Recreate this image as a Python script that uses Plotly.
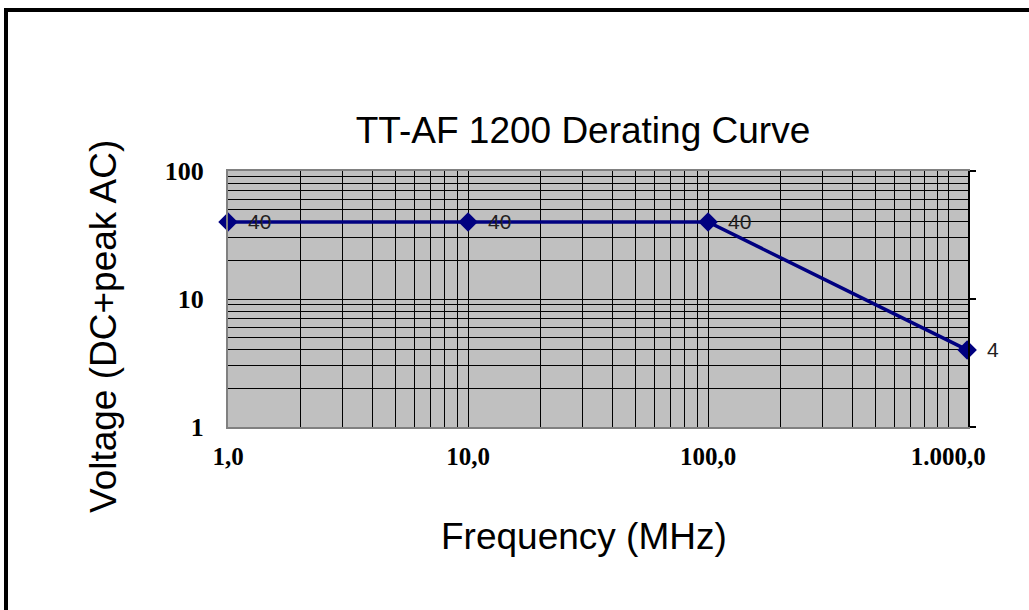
import math
import plotly.graph_objects as go

# ---- data ----
freq_mhz = [1, 10, 100, 1200]
voltage = [40, 40, 40, 4]
point_labels = ["40", "40", "40", "4"]

x_tick_vals = [1, 10, 100, 1000]
x_tick_text = ["1,0", "10,0", "100,0", "1.000,0"]
y_tick_vals = [1, 10, 100]
y_tick_text = ["1", "10", "100"]

title_text = "TT-AF 1200 Derating Curve"
x_title = "Frequency (MHz)"
y_title = "Voltage (DC+peak AC)"

# minor gridline positions (digits 2..9 of each decade)
x_minor = [d * 10 ** e for e in range(0, 3) for d in range(2, 10)]
y_minor = [d * 10 ** e for e in range(0, 2) for d in range(2, 10)]

# ---- layout geometry (pixels) ----
W, H = 1029, 610
PL, PR, PT, PB = 228, 968, 171, 427


def px(xp):
    return (xp - PL) / (PR - PL)


def py(yp):
    return (PB - yp) / (PB - PT)


NAVY = "#000080"
SANS = "Liberation Sans, Arial, sans-serif"
SERIF = "Liberation Serif, Times New Roman, serif"

fig = go.Figure()
fig.add_trace(go.Scatter(
    x=freq_mhz, y=voltage, mode="lines+markers",
    line=dict(color=NAVY, width=3.5),
    marker=dict(symbol="diamond", size=15, color=NAVY),
    hoverinfo="x+y", showlegend=False, cliponaxis=False,
))
# invisible trace to materialise right-hand axis
fig.add_trace(go.Scatter(
    x=freq_mhz, y=voltage, yaxis="y2", mode="markers",
    marker=dict(opacity=0), hoverinfo="skip", showlegend=False,
))

for f, v, t in zip(freq_mhz, voltage, point_labels):
    fig.add_annotation(
        x=math.log10(f), y=math.log10(v), xref="x", yref="y", text=t,
        showarrow=False, xanchor="left", yanchor="middle", xshift=18, yshift=0,
        font=dict(family=SANS, size=21, color="#222222"),
    )

fig.add_annotation(
    x=px(584), y=py(536), xref="paper", yref="paper", text=x_title,
    showarrow=False, xanchor="center", yanchor="middle",
    font=dict(family=SANS, size=37, color="black"),
)
fig.add_annotation(
    x=px(103), y=py(327), xref="paper", yref="paper", text=y_title,
    showarrow=False, xanchor="center", yanchor="middle", textangle=-90,
    font=dict(family=SANS, size=37, color="black"),
)

# outer black frame
fig.add_shape(
    type="rect", xref="paper", yref="paper",
    x0=px(6), x1=px(W + 20), y0=py(H + 20), y1=py(10),
    line=dict(color="black", width=4), fillcolor="rgba(0,0,0,0)", layer="above",
)

fig.update_layout(
    width=W, height=H, autosize=False,
    margin=dict(l=PL, r=W - PR, t=PT, b=H - PB, pad=0),
    paper_bgcolor="white", plot_bgcolor="#C0C0C0",
    title=dict(
        text=title_text, xref="container", yref="container",
        x=583 / W, y=1 - 130 / H, xanchor="center", yanchor="middle",
        font=dict(family=SANS, size=37, color="black"),
    ),
    xaxis=dict(
        type="log", range=[0, math.log10(1210)],
        tickmode="array", tickvals=x_tick_vals, ticktext=x_tick_text,
        tickfont=dict(family=SERIF, size=25, color="black", weight="bold"),
        showgrid=True, gridcolor="black", gridwidth=1.3,
        showline=True, linecolor="#808080", linewidth=2, mirror=True,
        ticks="", ticklabelstandoff=6,
        minor=dict(tickmode="array", tickvals=x_minor, showgrid=True,
                   gridcolor="black", gridwidth=1.3, ticks=""),
    ),
    yaxis=dict(
        type="log", range=[0, 2],
        tickmode="array", tickvals=y_tick_vals, ticktext=y_tick_text,
        tickfont=dict(family=SERIF, size=26, color="black", weight="bold"),
        showgrid=True, gridcolor="black", gridwidth=1.3,
        showline=True, linecolor="#808080", linewidth=2, mirror=False,
        ticks="", ticklabelstandoff=17,
        minor=dict(tickmode="array", tickvals=y_minor, showgrid=True,
                   gridcolor="black", gridwidth=1.3, ticks=""),
    ),
    yaxis2=dict(
        type="log", range=[0, 2], overlaying="y", side="right", anchor="x",
        tickmode="array", tickvals=y_tick_vals, showticklabels=False,
        showgrid=False, showline=True, linecolor="black", linewidth=1.5,
        ticks="outside", ticklen=6, tickwidth=1.5, tickcolor="black",
    ),
)

fig.write_html(
    "out.html",
    config={"displayModeBar": False},
    post_script="document.body.style.margin='0px';",
)
